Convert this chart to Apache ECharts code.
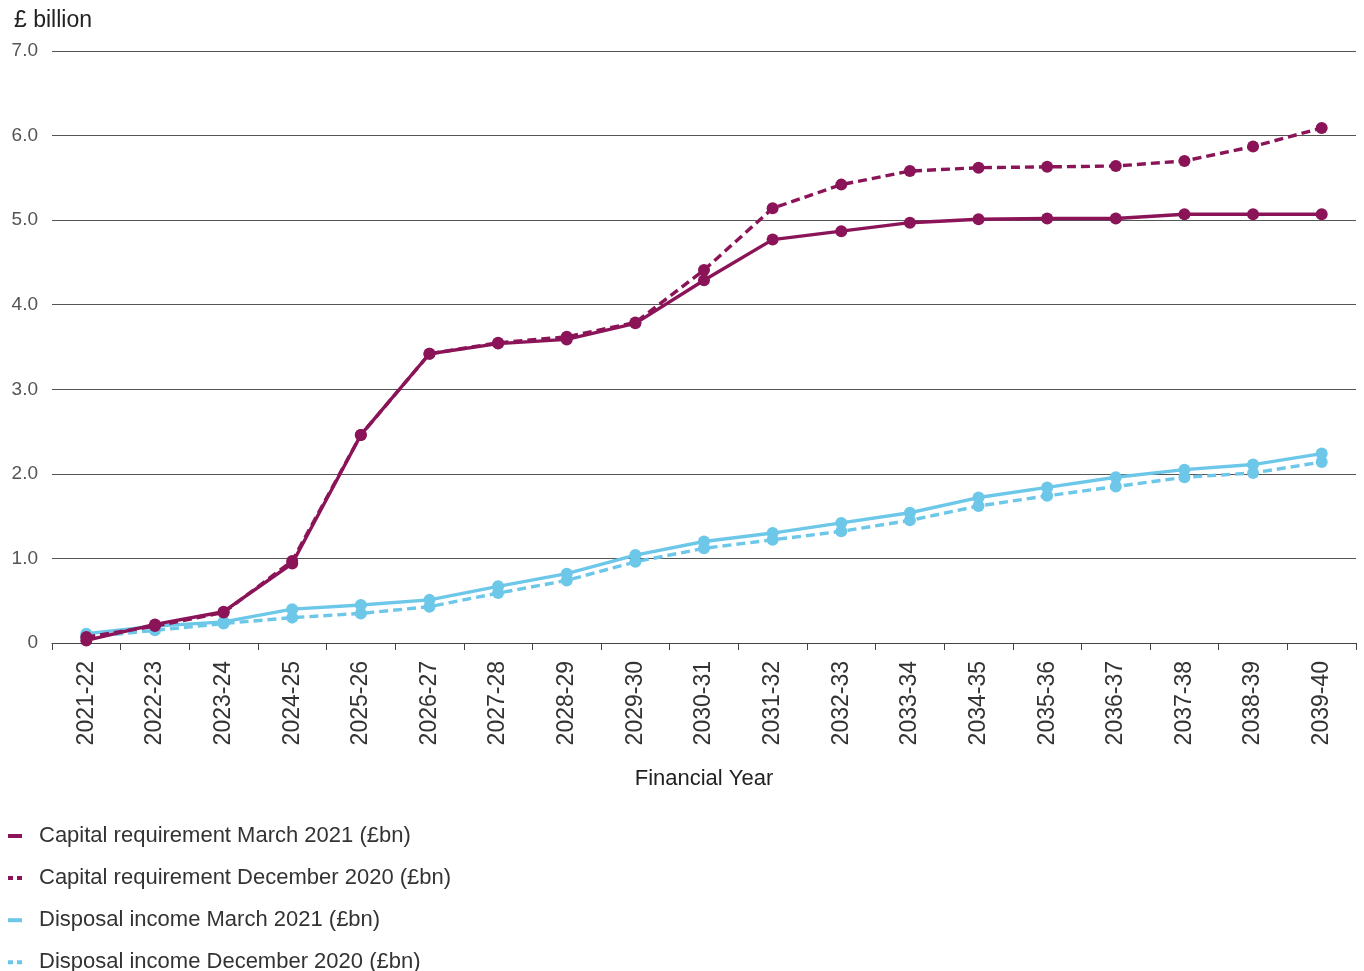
<!DOCTYPE html>
<html>
<head>
<meta charset="utf-8">
<script src="https://cdn.jsdelivr.net/npm/echarts@6/dist/echarts.min.js"></script>
<style>
  html, body { margin: 0; padding: 0; background: #fff; }
  #chart { width: 1364px; height: 971px; }
</style>
</head>
<body>
<div id="chart"></div>
<script>
// Financial years on the category axis
const years = ['2021-22','2022-23','2023-24','2024-25','2025-26','2026-27','2027-28','2028-29','2029-30','2030-31',
  '2031-32','2032-33','2033-34','2034-35','2035-36','2036-37','2037-38','2038-39','2039-40'];

// £ billion
const capitalMar2021 = [0.03, 0.22, 0.37, 0.94, 2.46, 3.42, 3.54, 3.59, 3.78, 4.29,
  4.77, 4.87, 4.97, 5.01, 5.02, 5.02, 5.07, 5.07, 5.07];
const capitalDec2020 = [0.07, 0.20, 0.36, 0.97, 2.46, 3.42, 3.55, 3.62, 3.79, 4.41,
  5.14, 5.42, 5.58, 5.62, 5.63, 5.64, 5.70, 5.87, 6.09];
const disposalMar2021 = [0.11, 0.20, 0.25, 0.40, 0.45, 0.51, 0.67, 0.82, 1.04, 1.20,
  1.30, 1.42, 1.54, 1.72, 1.84, 1.96, 2.05, 2.11, 2.24];
const disposalDec2020 = [0.07, 0.15, 0.23, 0.30, 0.35, 0.43, 0.59, 0.74, 0.96, 1.12,
  1.22, 1.32, 1.45, 1.62, 1.74, 1.85, 1.96, 2.01, 2.14];

const seriesNames = [
  'Capital requirement March 2021 (£bn)',
  'Capital requirement December 2020 (£bn)',
  'Disposal income March 2021 (£bn)',
  'Disposal income December 2020 (£bn)'
];

const PURPLE = '#8b1458';
const BLUE = '#6cc7e8';
const FONT = 'Liberation Sans, Arial, sans-serif';

const solidIcon = 'path://M0,0h14v4h-14z';
const dashIcon = 'path://M0,0h5v4h-5z M9,0h5v4h-5z';

function lineSeries(name, data, color, dashed, z) {
  return {
    name: name,
    type: 'line',
    data: data,
    z: z,
    symbol: 'circle',
    symbolSize: 12,
    showSymbol: true,
    itemStyle: { color: color },
    lineStyle: { color: color, width: 3.4, type: dashed ? [9, 5] : 'solid' },
    emphasis: { disabled: true },
    animation: false
  };
}

const chart = echarts.init(document.getElementById('chart'), null, { renderer: 'canvas' });

chart.setOption({
  backgroundColor: '#ffffff',
  textStyle: { fontFamily: FONT },
  title: {
    text: '£ billion',
    left: 9,
    top: 4,
    textStyle: { fontFamily: FONT, fontSize: 23, fontWeight: 'normal', color: '#222' }
  },
  grid: { left: 52, right: 8, top: 51, bottom: 328, containLabel: false },
  xAxis: {
    type: 'category',
    data: years,
    boundaryGap: true,
    axisLine: { show: true, lineStyle: { color: '#444', width: 1 } },
    axisTick: { show: true, length: 7, alignWithLabel: false, lineStyle: { color: '#444' } },
    axisLabel: { rotate: 90, margin: 18, fontSize: 23, color: '#333', fontFamily: FONT, interval: 0 },
    name: 'Financial Year',
    nameLocation: 'middle',
    nameGap: 125,
    nameTextStyle: { fontSize: 22, color: '#222', fontFamily: FONT }
  },
  yAxis: {
    type: 'value',
    min: 0,
    max: 7,
    interval: 1,
    axisLine: { show: false },
    axisTick: { show: false },
    splitLine: { show: true, lineStyle: { color: '#555', width: 1 } },
    axisLabel: {
      margin: 14,
      fontSize: 19,
      color: '#555',
      fontFamily: FONT,
      formatter: v => (v === 0 ? '0' : v.toFixed(1))
    }
  },
  legend: {
    orient: 'vertical',
    left: 8,
    top: 825,
    height: 200,
    padding: 0,
    itemWidth: 14,
    itemHeight: 4,
    itemGap: 20.1,
    selectedMode: false,
    textStyle: { fontSize: 22, color: '#333', fontFamily: FONT, lineHeight: 20, padding: [0, 0, 0, 12] },
    data: [
      { name: seriesNames[0], icon: solidIcon },
      { name: seriesNames[1], icon: dashIcon },
      { name: seriesNames[2], icon: solidIcon },
      { name: seriesNames[3], icon: dashIcon }
    ]
  },
  series: [
    lineSeries(seriesNames[3], disposalDec2020, BLUE, true, 2),
    lineSeries(seriesNames[2], disposalMar2021, BLUE, false, 3),
    lineSeries(seriesNames[1], capitalDec2020, PURPLE, true, 4),
    lineSeries(seriesNames[0], capitalMar2021, PURPLE, false, 5)
  ]
});
</script>
</body>
</html>
